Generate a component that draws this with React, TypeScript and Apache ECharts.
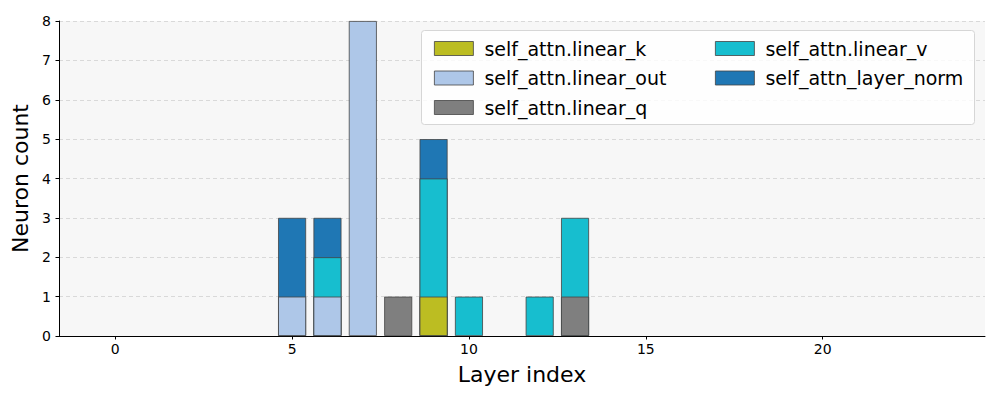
import React, { useEffect, useRef } from "react";
import * as echarts from "echarts";

const layers = Array.from({ length: 24 }, (_, i) => i);
const seriesNames = [
  "self_attn.linear_k",
  "self_attn.linear_out",
  "self_attn.linear_q",
  "self_attn.linear_v",
  "self_attn_layer_norm",
];
const colors = ["#bcbd22", "#aec7e8", "#7f7f7f", "#17becf", "#1f77b4"];
// counts per layer 0..23
const linearK = [0,0,0,0,0,0,0,0,0,1,0,0,0,0,0,0,0,0,0,0,0,0,0,0];
const linearOut = [0,0,0,0,0,1,1,8,0,0,0,0,0,0,0,0,0,0,0,0,0,0,0,0];
const linearQ = [0,0,0,0,0,0,0,0,1,0,0,0,0,1,0,0,0,0,0,0,0,0,0,0];
const linearV = [0,0,0,0,0,0,1,0,0,3,1,0,1,2,0,0,0,0,0,0,0,0,0,0];
const layerNorm = [0,0,0,0,0,2,1,0,0,1,0,0,0,0,0,0,0,0,0,0,0,0,0,0];
const xTicks = [0, 5, 10, 15, 20];

const values = [linearK, linearOut, linearQ, linearV, layerNorm];

export default function App() {
  const ref = useRef<HTMLDivElement>(null);
  useEffect(() => {
    const chart = echarts.init(ref.current!, null, { renderer: "svg" });
    const font = "DejaVu Sans";
    // cumulative tops for stacked drawing (each series drawn from 0 to its cumulative top;
    // lower series drawn over upper ones)
    const cum: number[][] = [];
    values.forEach((arr, si) => {
      cum.push(arr.map((v, i) => (si > 0 ? cum[si - 1][i] : 0) + v));
    });
    const legendText = { fontSize: 19, color: "#000", fontFamily: font, padding: [0, 0, 0, 6] };
    chart.setOption({
      animation: false,
      textStyle: { fontFamily: font },
      grid: {
        left: 59,
        right: 15,
        top: 21,
        bottom: 64,
        show: true,
        backgroundColor: "#f7f7f7",
        borderWidth: 0,
      },
      xAxis: {
        type: "value",
        min: -1.59,
        max: 24.59,
        name: "Layer index",
        nameLocation: "middle",
        nameGap: 27,
        nameTextStyle: { fontSize: 22, color: "#000", fontFamily: font },
        axisLine: { show: true, onZero: false, lineStyle: { color: "#000", width: 1 } },
        axisTick: { show: true, length: 3.5, customValues: xTicks, lineStyle: { color: "#000" } },
        axisLabel: { customValues: xTicks, fontSize: 14, color: "#000", margin: 6, fontFamily: font },
        splitLine: { show: false },
      },
      yAxis: {
        type: "value",
        min: 0,
        max: 8,
        interval: 1,
        name: "Neuron count",
        nameLocation: "middle",
        nameGap: 26,
        nameTextStyle: { fontSize: 22, color: "#000", fontFamily: font },
        axisLine: { show: true, onZero: false, lineStyle: { color: "#000", width: 1 } },
        axisTick: { show: true, length: 3.5, lineStyle: { color: "#000" } },
        axisLabel: { fontSize: 14, color: "#000", margin: 8, fontFamily: font },
        splitLine: { show: true, lineStyle: { type: [4, 3], color: "#d0d0d0", width: 0.8 } },
      },
      legend: [
        {
          data: [seriesNames[0], seriesNames[1], seriesNames[2]],
          orient: "vertical",
          left: 429,
          top: 34,
          itemWidth: 39,
          itemHeight: 14,
          itemGap: 10.5,
          icon: "rect",
          z: 10,
          itemStyle: { borderColor: "#444", borderWidth: 0.8 },
          textStyle: legendText,
        },
        {
          data: [seriesNames[3], seriesNames[4]],
          orient: "vertical",
          left: 710,
          top: 34,
          itemWidth: 39,
          itemHeight: 14,
          itemGap: 10.5,
          icon: "rect",
          z: 10,
          itemStyle: { borderColor: "#444", borderWidth: 0.8 },
          textStyle: legendText,
        },
      ],
      graphic: [
        {
          type: "rect",
          shape: { x: 421.5, y: 30.5, width: 553, height: 94, r: 3 },
          style: { fill: "rgba(255,255,255,0.8)", stroke: "#d6d6d6", lineWidth: 1 },
          z: 5,
        },
      ],
      series: seriesNames.map((name, si) => ({
        name,
        type: "bar",
        barWidth: 28,
        barGap: "-100%",
        data: layers.map((l, i) => [l, values[si][i] > 0 ? cum[si][i] : "-"]),
        itemStyle: { color: colors[si], borderColor: "#444", borderWidth: 0.8 },
        z: 2 + (seriesNames.length - si) * 0.01,
        zlevel: 0,
      })),
    });
    return () => chart.dispose();
  }, []);
  return (
    <div
      ref={ref}
      style={{ position: "absolute", left: 0, top: 0, width: 1000, height: 400 }}
    />
  );
}
